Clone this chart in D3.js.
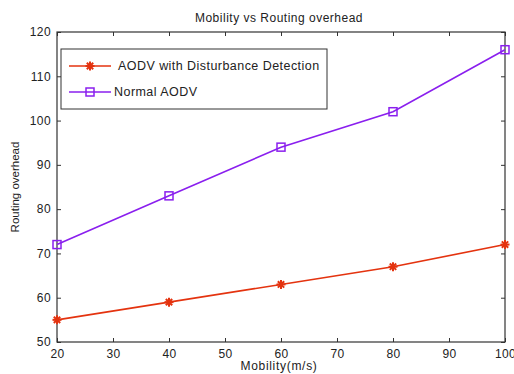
<!DOCTYPE html>
<html>
<head>
<meta charset="utf-8">
<script src="https://cdn.jsdelivr.net/npm/d3@7"></script>
<style>
  body { margin: 0; background: #fff; }
  text { font-family: "Liberation Sans", Arial, sans-serif; fill: #222; }
</style>
</head>
<body>
<div id="chart"></div>
<script>
// chart data
var mobility = [20, 40, 60, 80, 100];
var withDetection = [55, 59, 63, 67, 72];
var normalAodv = [72, 83, 94, 102, 116];
var xTicks = [20, 30, 40, 50, 60, 70, 80, 90, 100];
var yTicks = [50, 60, 70, 80, 90, 100, 110, 120];
var seriesNames = ["AODV with Disturbance Detection", "Normal AODV"];

var width = 514, height = 374;
var padL = 57, padR = 505, padT = 32, padB = 342;
var red = "#e4330f", purple = "#8a1fee";

var svg = d3.select("#chart").append("svg")
    .attr("width", width)
    .attr("height", height);

var x = d3.scaleLinear().domain([20, 100]).range([padL, padR]);
var y = d3.scaleLinear().domain([50, 120]).range([padB, padT]);

// inward ticks on all four sides
svg.append("g")
    .attr("transform", "translate(0," + padB + ")")
    .call(d3.axisBottom(x).tickValues(xTicks).tickSize(-4).tickPadding(7))
    .call(function(g) { g.select(".domain").remove(); });
svg.append("g")
    .attr("transform", "translate(0," + padT + ")")
    .call(d3.axisTop(x).tickValues(xTicks).tickSize(-4).tickFormat(""))
    .call(function(g) { g.select(".domain").remove(); });
svg.append("g")
    .attr("transform", "translate(" + padL + ",0)")
    .call(d3.axisLeft(y).tickValues(yTicks).tickSize(-4).tickPadding(6))
    .call(function(g) { g.select(".domain").remove(); });
svg.append("g")
    .attr("transform", "translate(" + padR + ",0)")
    .call(d3.axisRight(y).tickValues(yTicks).tickSize(-4).tickFormat(""))
    .call(function(g) { g.select(".domain").remove(); });

svg.selectAll(".tick text").attr("font-size", 12).attr("font-family", null)
    .attr("letter-spacing", 0.4).style("fill", "#222");
svg.selectAll(".tick line").attr("stroke", "#333");

svg.append("rect")
    .attr("x", padL).attr("y", padT)
    .attr("width", padR - padL).attr("height", padB - padT)
    .attr("fill", "none").attr("stroke", "#333").attr("stroke-width", 1.2);

var line = d3.line()
    .x(function(d) { return x(d[0]); })
    .y(function(d) { return y(d[1]); });

var redPts = mobility.map(function(m, i) { return [m, withDetection[i]]; });
var purplePts = mobility.map(function(m, i) { return [m, normalAodv[i]]; });

function star(g, cx, cy, c) {
    var r = 4.5;
    [0, 45, 90, 135].forEach(function(a) {
        var rad = a * Math.PI / 180;
        g.append("line")
            .attr("x1", cx - r * Math.cos(rad)).attr("y1", cy - r * Math.sin(rad))
            .attr("x2", cx + r * Math.cos(rad)).attr("y2", cy + r * Math.sin(rad))
            .attr("stroke", c).attr("stroke-width", 2);
    });
}
function square(g, cx, cy, c) {
    g.append("rect")
        .attr("x", cx - 4).attr("y", cy - 4)
        .attr("width", 8).attr("height", 8)
        .attr("fill", "none").attr("stroke", c).attr("stroke-width", 1.5);
}

svg.append("path").datum(purplePts).attr("d", line)
    .attr("fill", "none").attr("stroke", purple).attr("stroke-width", 1.6);
svg.append("path").datum(redPts).attr("d", line)
    .attr("fill", "none").attr("stroke", red).attr("stroke-width", 1.6);

var marks = svg.append("g");
purplePts.forEach(function(d) { square(marks, x(d[0]), y(d[1]), purple); });
redPts.forEach(function(d) { star(marks, x(d[0]), y(d[1]), red); });

// legend
var lg = svg.append("g");
lg.append("rect")
    .attr("x", 61).attr("y", 49).attr("width", 266).attr("height", 60)
    .attr("fill", "#fff").attr("stroke", "#333").attr("stroke-width", 1);
lg.append("line").attr("x1", 69).attr("x2", 111).attr("y1", 66).attr("y2", 66)
    .attr("stroke", red).attr("stroke-width", 1.6);
star(lg, 90, 66, red);
lg.append("text").attr("x", 118).attr("y", 70).attr("font-size", 12.5)
    .attr("letter-spacing", 0.45).text(seriesNames[0]);
lg.append("line").attr("x1", 69).attr("x2", 111).attr("y1", 92).attr("y2", 92)
    .attr("stroke", purple).attr("stroke-width", 1.6);
square(lg, 90, 92, purple);
lg.append("text").attr("x", 114).attr("y", 96).attr("font-size", 12.5)
    .attr("letter-spacing", 0.45).text(seriesNames[1]);

// titles
svg.append("text").attr("x", 279).attr("y", 22).attr("text-anchor", "middle")
    .attr("font-size", 12).attr("letter-spacing", 0.5).text("Mobility vs Routing overhead");
svg.append("text").attr("x", 279).attr("y", 370).attr("text-anchor", "middle")
    .attr("font-size", 12).attr("letter-spacing", 0.7).text("Mobility(m/s)");
svg.append("text")
    .attr("transform", "translate(19," + ((padT + padB) / 2) + ") rotate(-90)")
    .attr("text-anchor", "middle").attr("font-size", 11.5).text("Routing overhead");
</script>
</body>
</html>
